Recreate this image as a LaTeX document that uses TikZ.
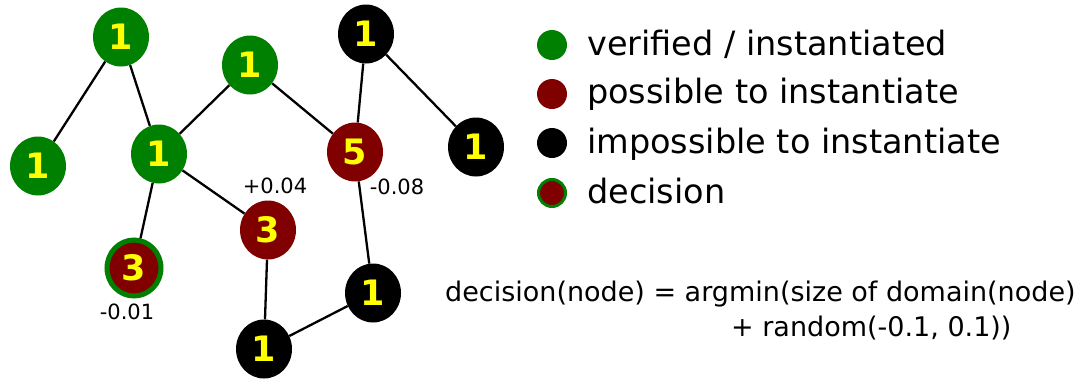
\documentclass[tikz,border=0pt]{standalone}
\usepackage{fontspec}
\setmainfont{DejaVu Sans}
\usetikzlibrary{shapes.geometric}

\definecolor{okgreen}{HTML}{008000}
\definecolor{maybered}{HTML}{800000}
\definecolor{numyellow}{HTML}{FFFF00}

\tikzset{
  cnode/.style={ellipse, minimum width=56pt, minimum height=59pt, inner sep=0pt,
                text=numyellow, font=\fontsize{35}{35}\selectfont\bfseries},
  verified/.style={cnode, fill=okgreen},
  possible/.style={cnode, fill=maybered},
  impossible/.style={cnode, fill=black},
  chosen/.style={cnode, fill=maybered, draw=okgreen, line width=5pt,
                 minimum width=54pt, minimum height=56pt},
  link/.style={draw=black, line width=2.3pt},
  noise/.style={font=\fontsize{21}{21}\selectfont, text=black, inner sep=0pt},
  keydot/.style={circle, minimum size=30pt, inner sep=0pt},
  keytext/.style={anchor=base west, inner sep=0pt, font=\fontsize{33.5}{33.5}\selectfont},
  formula/.style={anchor=base west, inner sep=0pt, font=\fontsize{27}{27}\selectfont}
}

\begin{document}
\begin{tikzpicture}[x=1pt, y=-1pt]
  \useasboundingbox (0,0) rectangle (1085,378);
  \fill[white] (0,0) rectangle (1085,378);

  % constraint graph
  \node[verified]   (a) at (121,37)  {1};
  \node[verified]   (b) at (38,166)  {1};
  \node[verified]   (c) at (159,154) {1};
  \node[verified]   (d) at (250,65)  {1};
  \node[impossible] (e) at (366,34)  {1};
  \node[possible]   (f) at (355,152) {5};
  \node[impossible] (g) at (476,147) {1};
  \node[chosen]     (h) at (134,268) {3};
  \node[possible]   (i) at (268,230) {3};
  \node[impossible] (j) at (373,293) {1};
  \node[impossible] (k) at (264,349) {1};

  \draw[link] (a) -- (b);
  \draw[link] (a) -- (c);
  \draw[link] (c) -- (d);
  \draw[link] (d) -- (f);
  \draw[link] (c) -- (h);
  \draw[link] (c) -- (i);
  \draw[link] (e) -- (f);
  \draw[link] (e) -- (g);
  \draw[link] (f) -- (j);
  \draw[link] (i) -- (k);
  \draw[link] (k) -- (j);

  % random tie-breaking offsets
  \node[noise] (ni) at (275,186) {+0.04};
  \node[noise] (nf) at (397,187) {-0.08};
  \node[noise] (nh) at (127,312) {-0.01};

  % legend
  \node[keydot, fill=okgreen]  (k1) at (552,45)  {};
  \node[keydot, fill=maybered] (k2) at (552,94)  {};
  \node[keydot, fill=black]    (k3) at (552,143) {};
  \node[keydot, fill=maybered, draw=okgreen, line width=3pt, minimum size=27pt] (k4) at (552,193) {};
  \node[keytext] (t1) at (587,55)  {verified / instantiated};
  \node[keytext] (t2) at (587,103) {possible to instantiate};
  \node[keytext] (t3) at (587,153) {impossible to instantiate};
  \node[keytext] (t4) at (587,203) {decision};

  % selection rule
  \node[formula] (r1) at (445,301) {decision(node) = argmin(size of domain(node)};
  \node[formula] (r2) at (731,336) {+ random(-0.1, 0.1))};
\end{tikzpicture}
\end{document}
